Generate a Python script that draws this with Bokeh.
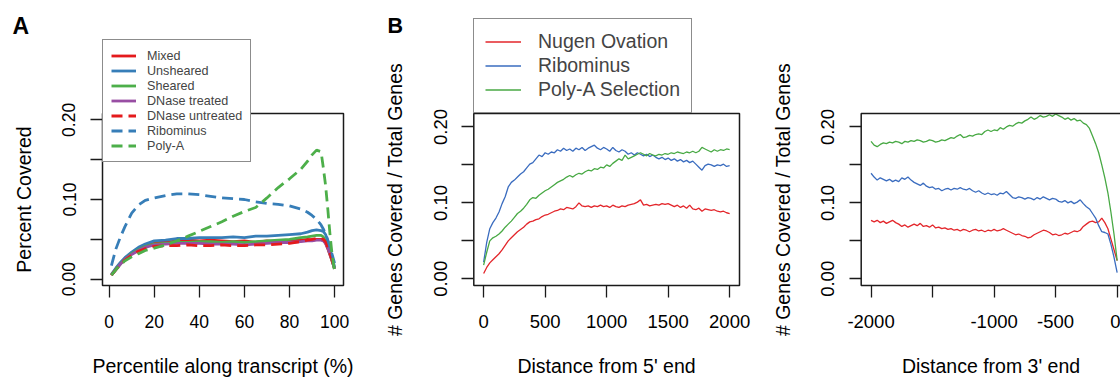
from bokeh.plotting import figure
from bokeh.layouts import row
from bokeh.models import (Range1d, FixedTicker, Legend, LegendItem, Label, LinearAxis,
                          BoxAnnotation)
from bokeh.embed import file_html
from bokeh.resources import INLINE

FONT = "Liberation Sans"

# ---------------- Panel A data ----------------
pct = [1, 3, 5, 7, 10, 13, 16, 20, 25, 30, 35, 40, 45, 50, 55, 60, 65, 70, 75, 80,
       85, 88, 90, 92, 94, 95, 96, 97, 98, 99, 100]
a_mixed = [0.005, 0.013, 0.020, 0.026, 0.033, 0.038, 0.042, 0.047, 0.046, 0.048, 0.049,
           0.048, 0.049, 0.048, 0.047, 0.048, 0.046, 0.048, 0.047, 0.048, 0.049, 0.050,
           0.049, 0.050, 0.050, 0.049, 0.045, 0.038, 0.030, 0.022, 0.013]
a_unsheared = [0.006, 0.014, 0.021, 0.027, 0.034, 0.040, 0.044, 0.048, 0.049, 0.051, 0.051,
               0.052, 0.052, 0.052, 0.053, 0.052, 0.054, 0.054, 0.055, 0.056, 0.057, 0.059,
               0.061, 0.062, 0.061, 0.060, 0.056, 0.048, 0.038, 0.027, 0.015]
a_sheared = [0.005, 0.012, 0.019, 0.025, 0.032, 0.037, 0.041, 0.044, 0.045, 0.046, 0.046,
             0.047, 0.047, 0.046, 0.047, 0.046, 0.047, 0.048, 0.049, 0.050, 0.052, 0.053,
             0.054, 0.055, 0.055, 0.053, 0.048, 0.040, 0.031, 0.022, 0.013]
a_dnase_t = [0.005, 0.012, 0.019, 0.025, 0.031, 0.036, 0.040, 0.043, 0.044, 0.045, 0.045,
             0.045, 0.044, 0.044, 0.044, 0.043, 0.044, 0.045, 0.046, 0.046, 0.047, 0.048,
             0.048, 0.049, 0.049, 0.048, 0.045, 0.039, 0.031, 0.022, 0.013]
a_dnase_u = [0.005, 0.012, 0.018, 0.024, 0.030, 0.035, 0.038, 0.041, 0.042, 0.042, 0.043,
             0.042, 0.042, 0.043, 0.042, 0.042, 0.043, 0.043, 0.044, 0.045, 0.047, 0.049,
             0.050, 0.051, 0.051, 0.050, 0.047, 0.040, 0.032, 0.023, 0.013]
a_ribo = [0.017, 0.038, 0.053, 0.066, 0.083, 0.093, 0.099, 0.102, 0.105, 0.107, 0.107,
          0.106, 0.104, 0.102, 0.101, 0.100, 0.097, 0.095, 0.094, 0.092, 0.088, 0.084,
          0.080, 0.075, 0.068, 0.063, 0.057, 0.049, 0.040, 0.030, 0.020]
a_polya = [0.005, 0.012, 0.018, 0.023, 0.028, 0.032, 0.036, 0.039, 0.043, 0.048, 0.054,
           0.060, 0.066, 0.072, 0.079, 0.085, 0.090, 0.102, 0.115, 0.126, 0.138, 0.148,
           0.156, 0.162, 0.160, 0.140, 0.118, 0.088, 0.055, 0.028, 0.010]
a_labels = ["Mixed", "Unsheared", "Sheared", "DNase treated", "DNase untreated",
            "Ribominus", "Poly-A"]

# ---------------- Panel B data (5' end) ----------------
b5_x = list(range(0, 2001, 25))
b5_nugen = [0.007, 0.015, 0.021, 0.025, 0.029, 0.033, 0.038, 0.044, 0.050, 0.054, 0.058,
            0.062, 0.065, 0.068, 0.072, 0.075, 0.076, 0.078, 0.079, 0.082, 0.084, 0.085,
            0.087, 0.089, 0.090, 0.092, 0.091, 0.094, 0.093, 0.092, 0.095, 0.100, 0.096,
            0.095, 0.096, 0.094, 0.096, 0.095, 0.097, 0.095, 0.096, 0.094, 0.097, 0.095,
            0.094, 0.096, 0.095, 0.097, 0.098, 0.099, 0.101, 0.104, 0.097, 0.098, 0.096,
            0.097, 0.098, 0.097, 0.099, 0.098, 0.099, 0.097, 0.095, 0.097, 0.094, 0.096,
            0.093, 0.097, 0.092, 0.091, 0.093, 0.089, 0.092, 0.091, 0.090, 0.091, 0.089,
            0.088, 0.089, 0.087, 0.086]
b5_ribo = [0.022, 0.048, 0.066, 0.074, 0.080, 0.088, 0.099, 0.108, 0.121, 0.127, 0.130,
           0.134, 0.138, 0.141, 0.146, 0.151, 0.153, 0.158, 0.163, 0.161, 0.166, 0.164,
           0.167, 0.166, 0.170, 0.168, 0.172, 0.169, 0.171, 0.168, 0.172, 0.170, 0.173,
           0.169, 0.172, 0.174, 0.176, 0.172, 0.170, 0.173, 0.171, 0.168, 0.173, 0.169,
           0.167, 0.170, 0.168, 0.164, 0.166, 0.163, 0.166, 0.164, 0.162, 0.164, 0.161,
           0.163, 0.160, 0.158, 0.160, 0.157, 0.159, 0.156, 0.158, 0.155, 0.157, 0.154,
           0.156, 0.153, 0.155, 0.151, 0.147, 0.143, 0.149, 0.151, 0.150, 0.148, 0.150,
           0.149, 0.151, 0.148, 0.149]
b5_polya = [0.018, 0.035, 0.050, 0.054, 0.056, 0.059, 0.063, 0.068, 0.072, 0.076, 0.081,
            0.086, 0.089, 0.093, 0.098, 0.104, 0.107, 0.106, 0.110, 0.113, 0.116, 0.118,
            0.121, 0.124, 0.127, 0.129, 0.131, 0.134, 0.136, 0.134, 0.137, 0.139, 0.138,
            0.141, 0.143, 0.142, 0.145, 0.144, 0.147, 0.146, 0.150, 0.148, 0.152, 0.155,
            0.158, 0.156, 0.163, 0.158, 0.160, 0.162, 0.164, 0.166, 0.164, 0.162, 0.165,
            0.163, 0.162, 0.164, 0.163, 0.165, 0.164, 0.166, 0.165, 0.167, 0.166, 0.165,
            0.167, 0.166, 0.168, 0.166, 0.168, 0.173, 0.171, 0.169, 0.167, 0.170, 0.168,
            0.170, 0.169, 0.171, 0.170]

# ---------------- Panel B data (3' end) ----------------
b3_x = list(range(-2000, 1, 25))
b3_nugen = [0.077, 0.075, 0.077, 0.074, 0.076, 0.073, 0.075, 0.077, 0.074, 0.072, 0.069,
            0.071, 0.068, 0.070, 0.072, 0.070, 0.073, 0.069, 0.070, 0.068, 0.071, 0.067,
            0.068, 0.066, 0.067, 0.065, 0.066, 0.064, 0.065, 0.063, 0.065, 0.064, 0.062,
            0.064, 0.065, 0.063, 0.064, 0.062, 0.064, 0.063, 0.065, 0.063, 0.064, 0.066,
            0.064, 0.062, 0.060, 0.058, 0.059, 0.057, 0.056, 0.054, 0.055, 0.058, 0.060,
            0.062, 0.064, 0.063, 0.061, 0.058, 0.059, 0.057, 0.058, 0.060, 0.059, 0.061,
            0.063, 0.062, 0.064, 0.069, 0.072, 0.075, 0.076, 0.074, 0.075, 0.080, 0.074,
            0.066, 0.052, 0.038, 0.024]
b3_ribo = [0.139, 0.134, 0.130, 0.133, 0.131, 0.129, 0.131, 0.128, 0.130, 0.128, 0.133,
           0.131, 0.134, 0.130, 0.127, 0.125, 0.123, 0.126, 0.122, 0.120, 0.121, 0.118,
           0.119, 0.116, 0.118, 0.119, 0.117, 0.119, 0.118, 0.120, 0.118, 0.117, 0.119,
           0.116, 0.114, 0.116, 0.113, 0.111, 0.113, 0.111, 0.112, 0.110, 0.113, 0.112,
           0.115, 0.111, 0.107, 0.106, 0.108, 0.107, 0.105, 0.107, 0.106, 0.104, 0.107,
           0.105, 0.108, 0.106, 0.104, 0.106, 0.105, 0.102, 0.101, 0.103, 0.100, 0.102,
           0.099, 0.101, 0.104, 0.099, 0.095, 0.092, 0.086, 0.080, 0.070, 0.062, 0.061,
           0.059, 0.045, 0.028, 0.008]
b3_polya = [0.181, 0.176, 0.174, 0.177, 0.179, 0.178, 0.180, 0.179, 0.181, 0.180, 0.178,
            0.181, 0.180, 0.182, 0.181, 0.183, 0.182, 0.180, 0.181, 0.183, 0.182, 0.180,
            0.181, 0.183, 0.182, 0.184, 0.186, 0.185, 0.188, 0.190, 0.186, 0.187, 0.189,
            0.188, 0.190, 0.191, 0.190, 0.194, 0.196, 0.194, 0.196, 0.195, 0.199, 0.197,
            0.200, 0.202, 0.201, 0.204, 0.206, 0.205, 0.208, 0.210, 0.213, 0.210, 0.212,
            0.215, 0.213, 0.214, 0.216, 0.214, 0.217, 0.215, 0.213, 0.210, 0.212, 0.209,
            0.211, 0.208, 0.209, 0.205, 0.203, 0.198, 0.188, 0.178, 0.166, 0.150, 0.133,
            0.113, 0.087, 0.058, 0.024]
b_labels = ["Nugen Ovation", "Ribominus", "Poly-A Selection"]

# ---------------- ticks ----------------
a_xticks = [0, 20, 40, 60, 80, 100]
b5_xticks = [0, 500, 1000, 1500, 2000]
b3_xticks = [-2000, -1500, -1000, -500, 0]
b3_xlabels = ["-2000", "", "-1000", "-500", "0"]
yticks = [0.0, 0.05, 0.10, 0.15, 0.20]
ylabels = ["0.00", "", "0.10", "", "0.20"]

RED, BLUE, GREEN, PURPLE = "#E41A1C", "#377EB8", "#4DAF4A", "#984EA3"
B_RED, B_BLUE, B_GREEN = "#E3262B", "#3A6CBF", "#48A944"
INK = "#1a1a1a"

H = 381
BOX_TOP, BOX_BOTTOM = 113, 285  # pixel rows of the plot boxes


def ranges(xlim, ylim, box_left, box_right, width):
    """Figure ranges so that the data limits (xlim, ylim) fill the given pixel box."""
    xper = (xlim[1] - xlim[0]) / (box_right - box_left)
    yper = (ylim[1] - ylim[0]) / (BOX_BOTTOM - BOX_TOP)
    xr = Range1d(xlim[0] - box_left * xper, xlim[1] + (width - box_right) * xper)
    yr = Range1d(ylim[0] - (H - BOX_BOTTOM) * yper, ylim[1] + BOX_TOP * yper)
    return xr, yr


def make_panel(width, xlim, ylim, box_left, box_right, xticks, xlabels, xtitle, ytitle,
               tick_fs):
    xr, yr = ranges(xlim, ylim, box_left, box_right, width)
    p = figure(width=width, height=H, output_backend="svg", toolbar_location=None,
               x_range=xr, y_range=yr, x_axis_type=None, y_axis_type=None,
               min_border_left=0, min_border_right=0, min_border_top=0,
               min_border_bottom=0)
    p.outline_line_color = None
    p.grid.visible = False
    p.add_layout(BoxAnnotation(left=xlim[0], right=xlim[1], bottom=ylim[0], top=ylim[1],
                               fill_alpha=0.0, line_color=INK, line_alpha=1.0,
                               line_width=1.5))
    xa = LinearAxis(fixed_location=ylim[0], bounds=xlim, axis_label=xtitle,
                    ticker=FixedTicker(ticks=xticks),
                    major_label_overrides={t: l for t, l in zip(xticks, xlabels)})
    ya = LinearAxis(fixed_location=xlim[0], bounds=ylim, axis_label=ytitle,
                    ticker=FixedTicker(ticks=yticks),
                    major_label_overrides={t: l for t, l in zip(yticks, ylabels)},
                    major_label_orientation="vertical")
    for ax in (xa, ya):
        ax.axis_line_color = None
        ax.major_tick_line_color = INK
        ax.major_tick_line_width = 1.3
        ax.major_tick_out = 12
        ax.major_tick_in = 0
        ax.minor_tick_line_color = None
        ax.major_label_text_font = FONT
        ax.major_label_text_font_size = tick_fs
        ax.major_label_text_color = "black"
        ax.axis_label_text_font = FONT
        ax.axis_label_text_font_size = "19.5px"
        ax.axis_label_text_font_style = "normal"
        ax.axis_label_text_color = "black"
    xa.major_label_standoff = 17
    xa.axis_label_standoff = 24
    ya.major_label_standoff = 15
    ya.axis_label_standoff = 25
    p.add_layout(xa, "below")
    p.add_layout(ya, "left")
    return p


def panel_tag(p, text, x, y_mid, size):
    p.add_layout(Label(x=x, y=H - y_mid, x_units="screen", y_units="screen", text=text,
                       text_font=FONT, text_font_size=size, text_font_style="bold",
                       text_baseline="middle", text_color="black"))


# ---------------- Figure A ----------------
pA = make_panel(380, (-2.96, 103.96), (-0.008, 0.208), 102, 343, a_xticks,
                [str(t) for t in a_xticks], "Percentile along transcript (%)",
                "Percent Covered", "17.5px")
series_a = [(a_mixed, RED, "solid"), (a_unsheared, BLUE, "solid"),
            (a_sheared, GREEN, "solid"), (a_dnase_t, PURPLE, "solid"),
            (a_dnase_u, RED, "11 6"), (a_ribo, BLUE, "11 6"), (a_polya, GREEN, "11 6")]
rs_a = []
for ys, c, d in series_a:
    rs_a.append(pA.line(pct, ys, line_color=c, line_width=2.8, line_dash=d))
legA = Legend(items=[LegendItem(label=l, renderers=[r]) for l, r in zip(a_labels, rs_a)],
              location=(102, H - 162), label_text_font=FONT, label_text_font_size="12.6px",
              glyph_width=25, glyph_height=15, label_height=15, spacing=0, padding=8,
              label_standoff=11, border_line_color=INK, border_line_width=1.3,
              background_fill_color="white", background_fill_alpha=1.0, margin=0)
pA.add_layout(legA)
panel_tag(pA, "A", 12, 25, "23px")

# ---------------- Figure B (5') ----------------
pB = make_panel(385, (-80, 2080), (-0.0088, 0.2177), 93.3, 359, b5_xticks,
                [str(t) for t in b5_xticks], "Distance from 5' end",
                "# Genes Covered / Total Genes", "18.5px")
rs_b = [pB.line(b5_x, b5_nugen, line_color=B_RED, line_width=1.3),
        pB.line(b5_x, b5_ribo, line_color=B_BLUE, line_width=1.3),
        pB.line(b5_x, b5_polya, line_color=B_GREEN, line_width=1.3)]
legB = Legend(items=[LegendItem(label=l, renderers=[r]) for l, r in zip(b_labels, rs_b)],
              location=(93, H - BOX_TOP), label_text_font=FONT,
              label_text_font_size="19.5px",
              glyph_width=36, glyph_height=21, label_height=21, spacing=1, padding=11,
              label_standoff=17, border_line_color=INK, border_line_width=1.3,
              background_fill_color="white", background_fill_alpha=1.0, margin=0)
pB.add_layout(legB)
panel_tag(pB, "B", 7, 25.8, "21.5px")

# ---------------- Figure B (3') ----------------
pC = make_panel(355, (-2080, 80), (-0.0088, 0.2177), 95.7, 361.5, b3_xticks, b3_xlabels,
                "Distance from 3' end", "# Genes Covered / Total Genes", "18.5px")
pC.line(b3_x, b3_nugen, line_color=B_RED, line_width=1.3)
pC.line(b3_x, b3_ribo, line_color=B_BLUE, line_width=1.3)
pC.line(b3_x, b3_polya, line_color=B_GREEN, line_width=1.3)

layout = row(pA, pB, pC)
open("out.html", "w").write(file_html(layout, INLINE))
